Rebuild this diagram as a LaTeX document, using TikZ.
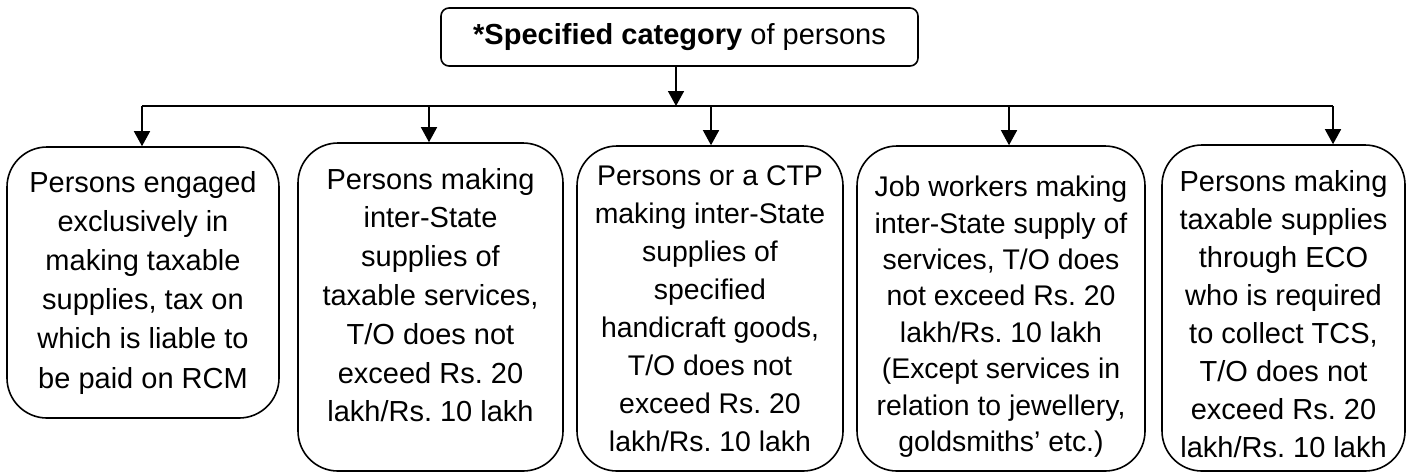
\documentclass[tikz,border=0pt]{standalone}
\usepackage{fontspec}
\setmainfont{Liberation Sans}
\frenchspacing
\usetikzlibrary{arrows.meta}

\begin{document}
\begin{tikzpicture}[x=0.5pt,y=-0.5pt,
  every node/.style={font=\fontsize{14.5}{19.6}\selectfont},
  leaf/.style={draw,line width=0.8pt,rounded corners=20pt,align=center,inner sep=1pt},
  link/.style={line width=0.75pt,-{Triangle[width=8pt,length=7.5pt]}}]
  \useasboundingbox (0,0) rectangle (1406,473);
  % head box
  \node[draw,line width=0.8pt,rounded corners=4pt,minimum width=238.5pt,minimum height=29pt] (head) at (679.5,37) {\textbf{*Specified category} of persons};
  % the five categories
  \node[leaf,minimum width=136pt,minimum height=135.5pt] (rcm) at (143,282.5) {Persons engaged\\exclusively in\\making taxable\\supplies, tax on\\which is liable to\\be paid on RCM};
  \node[leaf,minimum width=132.5pt,minimum height=164pt,font=\fontsize{14.5}{19.4}\selectfont] (inter) at (430.5,307) {Persons making\\inter-State\\supplies of\\taxable services,\\T/O does not\\exceed Rs. 20\\lakh/Rs. 10 lakh\rule[-12pt]{0pt}{1pt}};
  \node[leaf,minimum width=133pt,minimum height=162.5pt,font=\fontsize{14.2}{19}\selectfont] (craft) at (710,308.5) {Persons or a CTP\\making inter-State\\supplies of\\specified\\handicraft goods,\\T/O does not\\exceed Rs. 20\\lakh/Rs. 10 lakh};
  \node[leaf,minimum width=144pt,minimum height=162.5pt,font=\fontsize{14.2}{18.2}\selectfont] (job) at (1001,308.5) {\rule{0pt}{18.5pt}Job workers making\\inter-State supply of\\services, T/O does\\not exceed Rs. 20\\lakh/Rs. 10 lakh\\(Except services in\\relation to jewellery,\\goldsmiths’ etc.)};
  \node[leaf,minimum width=121.5pt,minimum height=163pt,font=\fontsize{14.5}{19}\selectfont] (eco) at (1283.5,308) {\rule{0pt}{16.5pt}Persons making\\taxable supplies\\through ECO\\who is required\\to collect TCS,\\T/O does not\\exceed Rs. 20\\lakh/Rs. 10 lakh};
  % bus line
  \coordinate (bus) at (676,106);
  \coordinate (b1) at (142,106);
  \coordinate (b2) at (429,106);
  \coordinate (b3) at (711,106);
  \coordinate (b4) at (1009,106);
  \coordinate (b5) at (1333,106);
  \draw[link] (bus |- head.south) -- (bus);
  \draw[line width=0.75pt] (b1) -- (b5);
  \draw[link] (b1) -- (b1 |- rcm.north);
  \draw[link] (b2) -- (b2 |- inter.north);
  \draw[link] (b3) -- (b3 |- craft.north);
  \draw[link] (b4) -- (b4 |- job.north);
  \draw[link] (b5) -- (b5 |- eco.north);
\end{tikzpicture}
\end{document}
